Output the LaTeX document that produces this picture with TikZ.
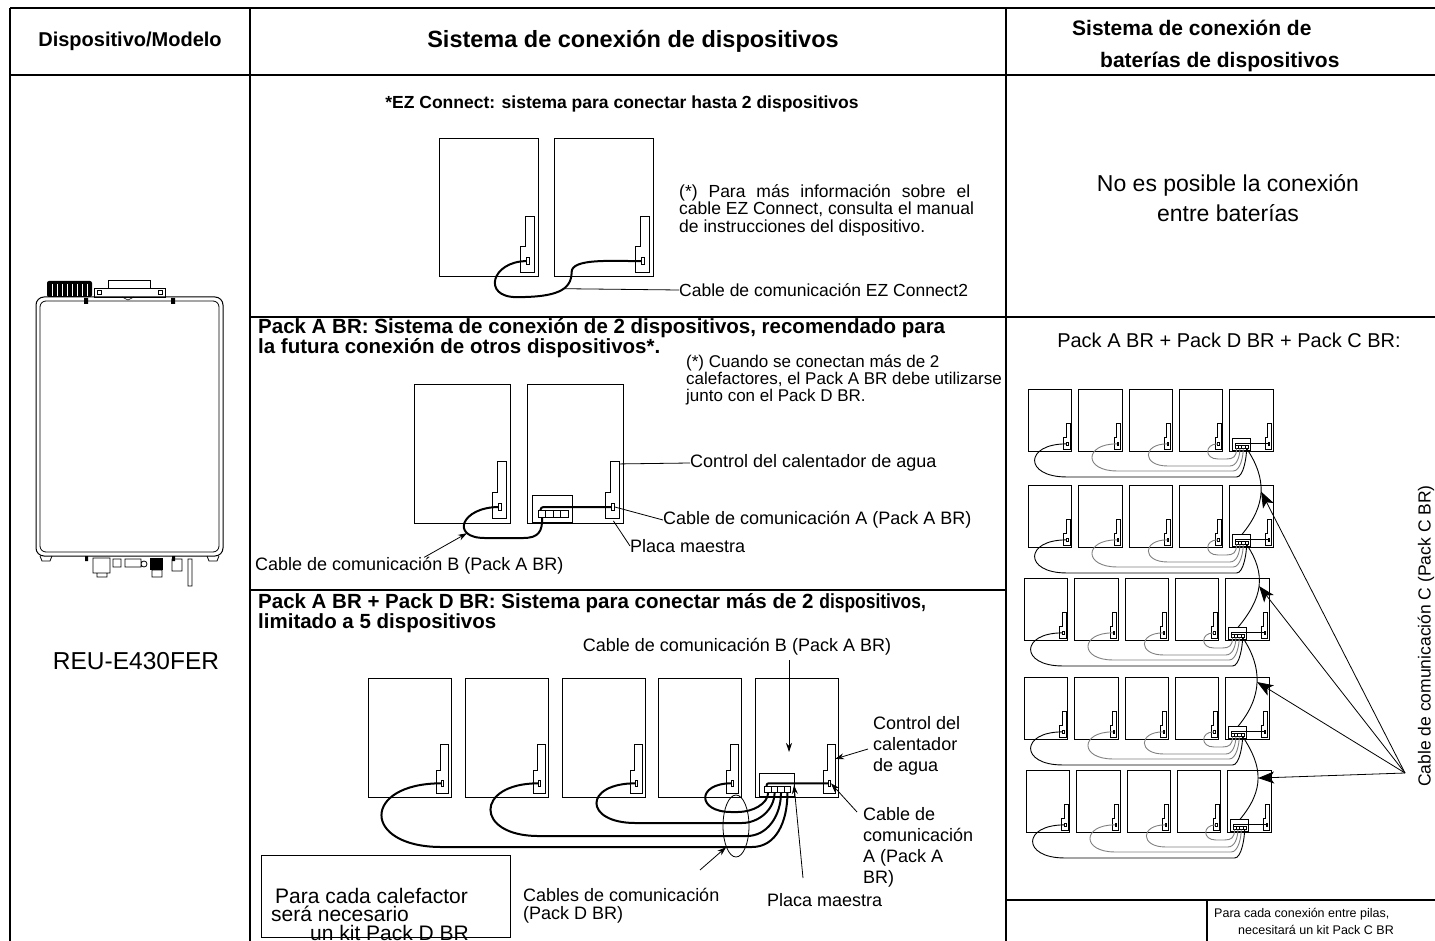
\documentclass[tikz,border=0pt]{standalone}
\usepackage{fontspec}
\setmainfont{Liberation Sans}
\usetikzlibrary{arrows.meta,shapes.geometric}

\tikzstyle{rule}=[line width=2.4pt]
\tikzstyle{unit}=[line width=1pt]
\tikzstyle{cable}=[line width=2pt]
\tikzstyle{leader}=[line width=0.8pt]
\tikzstyle{pointer}=[line width=0.8pt,-{Stealth[length=9pt,width=6pt]}]
\tikzstyle{bigpointer}=[line width=0.8pt,-{Stealth[length=16pt,width=12pt,inset=4pt]}]
\tikzstyle{txt}=[inner sep=0pt,anchor=west,align=left,font=\fontsize{18}{21}\selectfont]
\tikzstyle{ttl}=[inner sep=0pt,anchor=west,align=left,font=\fontsize{20.5}{16}\selectfont\bfseries]

\tikzset{
  % one water heater seen from the front, origin at its top left corner
  pics/heater/.style 2 args={code={
    \draw[unit] (0,0) rectangle (#1,#2);
    \draw[unit] ({0.965*#1},{0.56*#2}) -- ({0.87*#1},{0.56*#2}) -- ({0.87*#1},{0.78*#2})
      -- ({0.82*#1},{0.78*#2}) -- ({0.82*#1},{0.97*#2}) -- ({0.965*#1},{0.97*#2}) -- cycle;
    \draw[unit,fill=white] ({0.885*#1},{0.86*#2}) rectangle ({0.915*#1},{0.91*#2});
    \coordinate (-port) at ({0.885*#1},{0.885*#2});
    \coordinate (-pr) at ({0.915*#1},{0.885*#2});
    \coordinate (-ctl) at ({0.965*#1},{0.575*#2});
    \coordinate (-cmid) at ({0.965*#1},{0.68*#2});
    \coordinate (-foot) at ({0.9*#1},{0.985*#2});
  }},
  % master board with its terminal strip
  pics/master/.style 2 args={code={
    \draw[unit] ({0.06*#1},{0.8*#2}) rectangle ({0.47*#1},{0.995*#2});
    \draw[unit] ({0.12*#1},{0.91*#2}) rectangle ({0.43*#1},{0.96*#2});
    \foreach \k in {1,...,4} {
      \draw[unit] ({(0.12+0.0775*\k)*#1},{0.91*#2}) -- ({(0.12+0.0775*\k)*#1},{0.96*#2});
      \coordinate (-t\k) at ({(0.08125+0.0775*\k)*#1},{0.96*#2});
    }
    \coordinate (-a) at ({0.14*#1},{0.91*#2});
    \coordinate (-top) at ({0.28*#1},{0.8*#2});
    \coordinate (-r) at ({0.47*#1},{0.9*#2});
  }},
}

\begin{document}
\begin{tikzpicture}[x=1pt,y=-1pt]
\useasboundingbox (0,0) rectangle (1435,941);
\clip (0,0) rectangle (1435,941);

% table rules
\draw[rule] (10,8) -- (1435,8);
\draw[rule] (10,75) -- (1435,75);
\draw[rule] (10,8) -- (10,941);
\draw[rule] (250,8) -- (250,941);
\draw[rule] (1006,8) -- (1006,941);
\draw[rule] (250,317) -- (1435,317);
\draw[rule] (250,590) -- (1006,590);
\draw[rule] (1006,900) -- (1435,900);
\draw[rule] (1207,900) -- (1207,941);

% headings
\node[inner sep=0pt,font=\fontsize{20}{24}\selectfont\bfseries] (hdmodel) at (130,41) {Dispositivo/Modelo};
\node[inner sep=0pt,font=\fontsize{23.5}{28}\selectfont\bfseries] (hdsys) at (633,41) {Sistema de conexión de dispositivos};
\node[ttl,font=\fontsize{21}{25}\selectfont\bfseries] (hdbat) at (1072,28) {Sistema de conexión de};
\node[ttl,font=\fontsize{21}{25}\selectfont\bfseries] (hdbat2) at (1100,62) {baterías de dispositivos};

% the heater model
\draw[line width=1pt,rounded corners=8pt] (36,297) rectangle (223,556);
\draw[line width=0.8pt,rounded corners=6pt] (40,301) rectangle (219,552);
\fill[rounded corners=2pt] (47,281) rectangle (92,297);
\foreach \s in {52,57,...,87}
  \draw[white,line width=0.6pt] (\s,284) -- (\s,296);
\draw[line width=0.8pt] (94,288) rectangle (165,297);
\draw[line width=0.8pt] (108,280) rectangle (150,288);
\draw[line width=0.6pt] (97,290) rectangle (101,294) (158,290) rectangle (162,294);
\draw[line width=0.6pt] (122,297) -- (128,300) -- (134,297);
\fill (84,298) rectangle (88,304) (171,298) rectangle (175,304);
\draw[line width=0.8pt] (40,556) -- (42,561) -- (50,561) -- (52,556);
\draw[line width=0.8pt] (207,556) -- (209,561) -- (217,561) -- (219,556);
\fill (85,556) rectangle (88,561) (172,556) rectangle (175,561);
\draw[line width=0.8pt] (93,558) rectangle (110,573) (97,573) rectangle (107,577)
  (113,559) rectangle (121,567) (125,559) rectangle (141,567) (144,564) circle (3)
  (152,570) rectangle (162,577) (172,559) rectangle (182,571) (188,559) rectangle (192,586);
\fill (150,558) rectangle (163,570);
\node[inner sep=0pt,font=\fontsize{24.5}{28}\selectfont] (model) at (136,661) {REU-E430FER};

% EZ Connect, 2 units
\node[inner sep=0pt,font=\fontsize{17.5}{21}\selectfont\bfseries] (ezttl) at (622,104) {*EZ Connect: sistema para conectar hasta 2 dispositivos};
\pic (ez1) at (439,139) {heater={99}{138}};
\pic (ez2) at (554,139) {heater={99}{138}};
\draw[cable] (ez1-port) .. controls +(-35,0) and +(-35,0) .. ++(-10,36)
  .. controls +(40,0) and +(0,18) .. ++(55,-25) coordinate[pos=0.6] (ezc)
  .. controls +(0,-14) and +(-30,0) .. (ez2-port);
\node[txt,font=\fontsize{17.5}{17.5}\selectfont] (eznote) at (679,210)
  {\makebox[291pt][s]{(*) Para más información sobre el}\\cable EZ Connect, consulta el manual\\de instrucciones del dispositivo.};
\node[txt,font=\fontsize{17.5}{20}\selectfont] (ezlbl) at (679,290) {Cable de comunicación EZ Connect2};
\draw[leader] (ezc) -- (ezlbl.west);

% Pack A BR, 2 units
\node[ttl] (pattl) at (258,338) {Pack A BR: Sistema de conexión de 2 dispositivos, recomendado para\\la futura conexión de otros dispositivos*.};
\node[txt,font=\fontsize{17}{17}\selectfont] (panote) at (686,380) {(*) Cuando se conectan más de 2\\calefactores, el Pack A BR debe utilizarse\\junto con el Pack D BR.};
\pic (pa1) at (414,384) {heater={96}{139}};
\pic (pa2) at (527,384) {heater={96}{139}};
\pic (pam) at (527,384) {master={96}{139}};
\draw[cable,rounded corners=3pt] (pam-a) |- (pa2-port);
\draw[cable] (pa1-port) .. controls +(-38,0) and +(-35,0) .. ++(-14,31) coordinate[pos=0.75] (pab)
  -- ++(38,0) .. controls +(16,0) and +(0,14) .. (pam-t1);
\node[txt] (pactl) at (690,463) {Control del calentador de agua};
\node[txt] (paca) at (663,520) {Cable de comunicación A (Pack A BR)};
\node[txt] (papm) at (630,546) {Placa maestra};
\node[txt] (pacb) at (255,566) {Cable de comunicación B (Pack A BR)};
\draw[leader] (pa2-ctl) -- (pactl.west);
\draw[leader] (pa2-pr) -- (paca.west);
\draw[leader] (pa2-foot) -- (papm.west);
\draw[pointer] ([xshift=15pt]pacb.north) -- (pab);

% Pack A BR + Pack D BR, 5 units
\node[ttl] (pdttl) at (258,613)
  {Pack A BR + Pack D BR: Sistema para conectar más de 2 \scalebox{0.85}[1]{dispositivos,}\\limitado a 5 dispositivos};
\node[txt,anchor=center] (pdcb) at (737,647) {Cable de comunicación B (Pack A BR)};
\foreach \i/\x in {1/368,2/465,3/562,4/658,5/755}
  \pic (pd\i) at (\x,678) {heater={83}{119}};
\pic (pdm) at (755,678) {master={83}{119}};
\draw[cable,rounded corners=2pt] (pdm-a) |- (pd5-port);
\draw[cable] (pd1-port) .. controls +(-80,0) and +(-80,0) .. ++(0,63.7) -- (752,847)
  .. controls +(24,0) and +(0,30) .. (pdm-t4);
\draw[cable] (pd2-port) .. controls +(-64,0) and +(-64,0) .. ++(0,52.7) -- (747,836)
  .. controls +(20,0) and +(0,24) .. (pdm-t3);
\draw[cable] (pd3-port) .. controls +(-52,0) and +(-52,0) .. ++(0,39.7) -- (742,823)
  .. controls +(16,0) and +(0,18) .. (pdm-t2);
\draw[cable] (pd4-port) .. controls +(-35,0) and +(-35,0) .. ++(0,28.7) -- (738,812)
  .. controls +(14,0) and +(0,12) .. (pdm-t1);
\node[draw,ellipse,line width=0.8pt,minimum width=26pt,minimum height=62pt,inner sep=0pt] (bundle) at (736,826) {};
\node[txt] (pdctl) at (873,746) {Control del\\calentador\\de agua};
\node[txt] (pdca) at (863,847) {Cable de\\comunicación\\A (Pack A\\BR)};
\node[txt] (pdpm) at (767,900) {Placa maestra};
\node[txt,font=\fontsize{18}{18}\selectfont] (pdcd) at (523,906) {Cables de comunicación\\(Pack D BR)};
\coordinate (pdctlp) at (868,749);
\coordinate (pdcap) at (857,812);
\coordinate (pdpmp) at (803,878);
\coordinate (pdcbp) at (789,660);
\coordinate (pdcbt) at (789,752);
\coordinate (pdcdp) at (700,870);
\draw[pointer] (pdctlp) -- (pd5-cmid);
\draw[pointer] (pdcap) -- (pd5-pr);
\draw[pointer] (pdpmp) -- (pdm-r);
\draw[pointer] (pdcbp) -- (pdcbt);
\draw[pointer] (pdcdp) -- (bundle.245);
\node[draw,line width=1pt,minimum width=249pt,minimum height=82pt,inner sep=0pt] (kitbox) at (385.5,896) {};
\node[txt,font=\fontsize{21}{18.5}\selectfont] (kittxt) at (271,914)
  {\hspace*{4pt}Para cada calefactor\\será necesario\\\hspace*{39pt}un kit Pack D BR};

% battery column
\node[inner sep=0pt,align=center,font=\fontsize{23}{30}\selectfont] (nobat) at (1228,198) {No es posible la conexión\\entre baterías};
\node[inner sep=0pt,font=\fontsize{20}{24}\selectfont] (gttl) at (1229,340) {Pack A BR + Pack D BR + Pack C BR:};
\begin{scope}[unit/.style={line width=0.6pt},cable/.style={line width=0.9pt}]
\foreach \r/\y/\x in {1/389/1028,2/485/1028,3/578/1024,4/677/1024,5/770/1026} {
  \foreach \c in {1,...,5}
    \pic (g\r\c) at ({\x+50.4*(\c-1)},\y) {heater={43.5}{62}};
  \pic (gm\r) at ({\x+201.6},\y) {master={43.5}{62}};
  \draw[cable] (gm\r-a) |- (g\r5-port);
  \foreach \c/\d/\o/\col in {1/26/32/black,2/20/25/gray,3/15/19/gray,4/8/10/gray} {
    \pgfmathtruncatemacro\k{5-\c}
    \pgfmathsetmacro\xe{\x+201.6+(0.08125+0.0775*\k)*43.5-10}
    \draw[cable,\col] (g\r\c-port) .. controls +({-1.33*\o},0) and +({-1.33*\o},0) .. ++(0,{7.1+\d})
      -- (\xe,{\y+62+\d}) .. controls +(7,0) and +(0,8) .. (gm\r-t\k);
  }
}
\end{scope}
\coordinate (gfocus) at (1405,773);
\foreach \r in {1,...,4} {
  \pgfmathtruncatemacro\s{\r+1}
  \draw[line width=0.9pt] (gm\r-t4) .. controls +(20,30) and +(25,-30) .. (gm\s-top) coordinate[pos=0.5] (gc\r);
  \draw[bigpointer] (gfocus) -- (gc\r);
}
\node[inner sep=0pt,rotate=90,font=\fontsize{17.5}{20}\selectfont] (gclbl) at (1426,636) {Cable de comunicación C (Pack C BR)};
\node[inner sep=0pt,anchor=west,align=left,font=\fontsize{12.5}{17}\selectfont] (gnote) at (1214,921)
  {Para cada conexión entre pilas,\\\hspace*{24pt}necesitará un kit Pack C BR};
\end{tikzpicture}
\end{document}
